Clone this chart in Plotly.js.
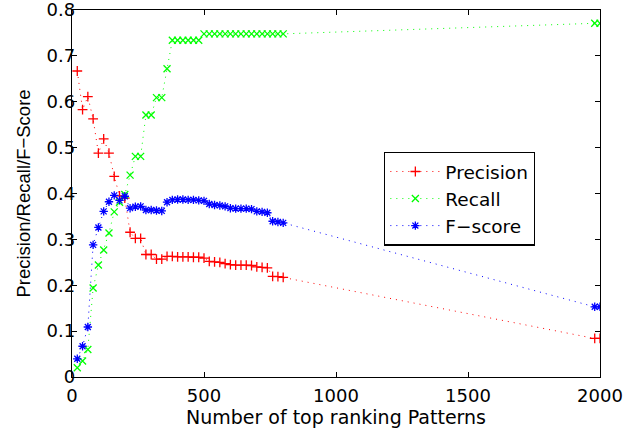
<!DOCTYPE html>
<html>
<head>
<meta charset="utf-8">
<script src="https://cdn.plot.ly/plotly-3.0.1.min.js"></script>
<style>html,body{margin:0;padding:0;background:#fff;}#chart{width:627px;height:429px;}</style>
</head>
<body>
<div id="chart"></div>
<script>
const topK = [20,40,60,80,100,120,140,160,180,200,220,240,260,280,300,320,340,360,380,400,
  420,440,460,480,500,520,540,560,580,600,620,640,660,680,700,720,740,760,780,800,1980,2000];
const precision = [0.667,0.583,0.611,0.5625,0.488,0.519,0.488,0.4375,0.395,0.39,
  0.3155,0.302,0.302,0.267,0.267,0.257,0.257,0.263,0.263,0.262,
  0.262,0.262,0.261,0.261,0.259,0.252,0.251,0.250,0.247,0.245,
  0.244,0.244,0.244,0.243,0.240,0.239,0.238,0.2195,0.219,0.217,0.084,0.084];
const recall = [0.02,0.035,0.06,0.194,0.244,0.277,0.314,0.36,0.381,0.398,
  0.44,0.481,0.481,0.571,0.571,0.609,0.609,0.672,0.734,0.734,
  0.734,0.734,0.734,0.734,0.748,0.748,0.748,0.748,0.748,0.748,
  0.748,0.748,0.748,0.748,0.748,0.748,0.748,0.748,0.748,0.748,0.771,0.771];
const fscore = [0.0397,0.067,0.109,0.288,0.326,0.361,0.382,0.396,0.385,0.394,
  0.368,0.371,0.372,0.364,0.364,0.363,0.362,0.381,0.386,0.387,
  0.387,0.386,0.386,0.385,0.384,0.377,0.375,0.374,0.372,0.368,
  0.367,0.367,0.367,0.366,0.361,0.360,0.358,0.3395,0.338,0.336,0.153,0.153];
const seriesNames = ['Precision','Recall','F\u2212score'];
const xTickVals = [0,500,1000,1500,2000];
const yTickVals = [0,0.1,0.2,0.3,0.4,0.5,0.6,0.7,0.8];
const yTickText = ['0','0.1','0.2','0.3','0.4','0.5','0.6','0.7','0.8'];
const xTitle = 'Number of top ranking Patterns';
const yTitle = 'Precision/Recall/F\u2212Score';

const FONT = 'DejaVu Sans, Liberation Sans, Arial, sans-serif';
function tr(y, name, color, symbol) {
  return {
    x: topK, y: y, name: name, type: 'scatter', mode: 'lines+markers',
    line: {color: color, width: 1, dash: '1px,5px'},
    marker: {symbol: symbol, size: 7, color: color, line: {color: color, width: 1.3}}
  };
}
const data = [
  tr(precision, seriesNames[0], '#ff0000', 'cross-thin'),
  tr(recall, seriesNames[1], '#00ff00', 'x-thin'),
  tr(fscore, seriesNames[2], '#0000ff', 'asterisk')
];
const axisCommon = {
  showline: true, mirror: 'ticks', linecolor: '#000', linewidth: 1.3,
  ticks: 'inside', ticklen: 5, tickwidth: 1, tickcolor: '#000',
  showgrid: false, zeroline: false, ticklabeloverflow: 'allow',
  tickfont: {family: FONT, size: 18, color: '#000'}
};
const layout = {
  width: 627, height: 429,
  margin: {l: 72, r: 27, t: 10, b: 52, pad: 0},
  paper_bgcolor: '#fff', plot_bgcolor: '#fff',
  showlegend: true,
  legend: {
    x: 0.591, y: 0.614, xanchor: 'left', yanchor: 'top',
    bgcolor: '#fff', bordercolor: '#000', borderwidth: 1.3,
    font: {family: FONT, size: 18.5, color: '#000'},
    itemwidth: 50
  },
  xaxis: Object.assign({}, axisCommon, {
    range: [0, 2000], tickmode: 'array', tickvals: xTickVals,
    ticklabelstandoff: 2,
    title: {text: xTitle, font: {family: FONT, size: 19, color: '#000'}, standoff: 1}
  }),
  yaxis: Object.assign({}, axisCommon, {
    range: [0, 0.8], tickmode: 'array', tickvals: yTickVals, ticktext: yTickText,
    ticklabelstandoff: -8,
    title: {text: yTitle, font: {family: 'Liberation Sans, Arial, sans-serif', size: 18.5, color: '#000'}, standoff: 11}
  })
};
Plotly.newPlot('chart', data, layout, {displayModeBar: false, staticPlot: true});
</script>
</body>
</html>
